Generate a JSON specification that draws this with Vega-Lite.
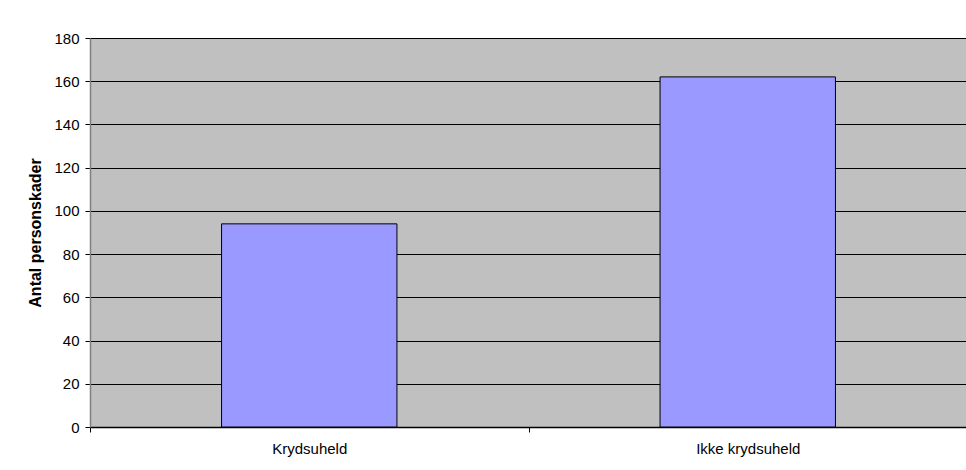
{
  "$schema": "https://vega.github.io/schema/vega-lite/v6.json",
  "width": 877,
  "height": 389,
  "autosize": {"type": "none"},
  "padding": {"left": 90, "top": 38, "right": 0, "bottom": 43},
  "background": "white",
  "config": {
    "view": {"fill": "#C0C0C0", "stroke": "#808080", "strokeWidth": 1},
    "font": "Liberation Sans"
  },
  "data": {
    "values": [
      {"kategori": "Krydsuheld", "antal": 94},
      {"kategori": "Ikke krydsuheld", "antal": 162}
    ]
  },
  "mark": {"type": "bar", "color": "#9999FF", "stroke": "#000000", "strokeWidth": 1, "width": {"band": 0.4}},
  "encoding": {
    "x": {
      "field": "kategori",
      "type": "nominal",
      "sort": null,
      "scale": {"paddingInner": 0, "paddingOuter": 0},
      "axis": {
        "title": null,
        "labelAngle": 0,
        "labelFont": "Liberation Sans",
        "labelFontSize": 15,
        "labelColor": "#000000",
        "labelPadding": 9,
        "domainColor": "#000000",
        "domainWidth": 1.5,
        "tickColor": "#000000",
        "tickSize": 5,
        "tickBand": "extent",
        "grid": false
      }
    },
    "y": {
      "field": "antal",
      "type": "quantitative",
      "scale": {"domain": [0, 180]},
      "axis": {
        "title": "Antal personskader",
        "titleFont": "Liberation Sans",
        "titleFontSize": 16,
        "titleFontWeight": "bold",
        "titleColor": "#000000",
        "titlePadding": 10,
        "values": [0, 20, 40, 60, 80, 100, 120, 140, 160, 180],
        "labelFont": "Liberation Sans",
        "labelFontSize": 15,
        "labelColor": "#000000",
        "labelPadding": 6,
        "domainColor": "#808080",
        "domainWidth": 1.5,
        "tickColor": "#000000",
        "tickSize": 5,
        "grid": true,
        "gridColor": "#000000",
        "gridOpacity": 1,
        "gridWidth": 1
      }
    }
  }
}
